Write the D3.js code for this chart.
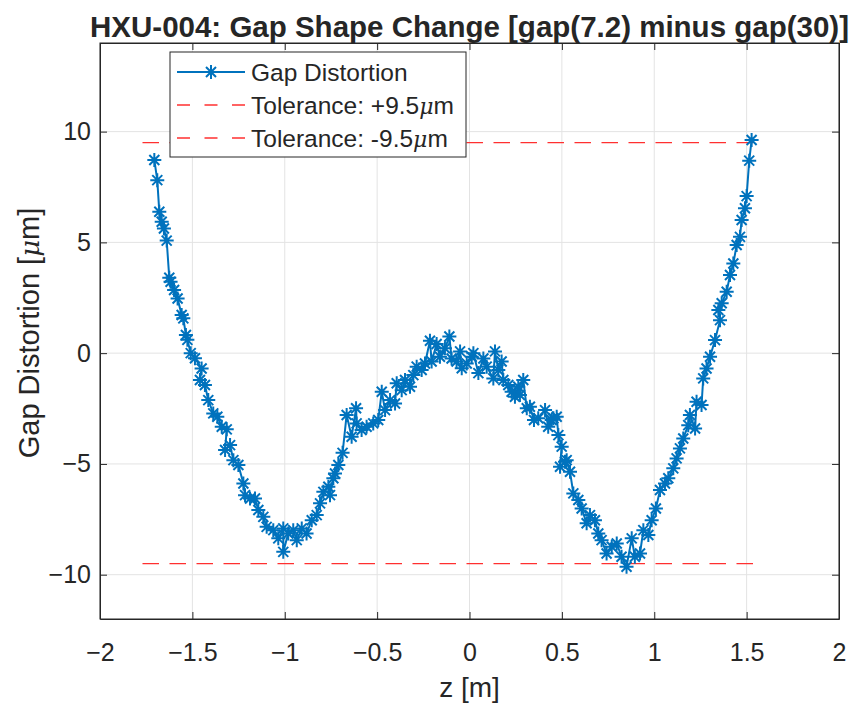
<!DOCTYPE html>
<html>
<head>
<meta charset="utf-8">
<script src="https://cdn.jsdelivr.net/npm/d3@7"></script>
<style>
  body { margin: 0; background: #fff; }
  text { font-family: "Liberation Sans", Arial, Helvetica, sans-serif; fill: #262626; }
</style>
</head>
<body>
<svg id="chart" width="858" height="709"></svg>
<script>
// data
var zValues = [-1.706,-1.690,-1.679,-1.666,-1.654,-1.639,-1.625,-1.618,-1.599,-1.580,-1.558,-1.549,-1.535,-1.527,-1.509,-1.486,-1.450,-1.459,-1.432,-1.414,-1.387,-1.365,-1.341,-1.314,-1.323,-1.296,-1.278,-1.251,-1.224,-1.215,-1.188,-1.161,-1.143,-1.116,-1.098,-1.062,-1.035,-1.008,-1.008,-0.981,-0.954,-0.935,-0.908,-0.882,-0.854,-0.827,-0.809,-0.791,-0.764,-0.755,-0.737,-0.728,-0.710,-0.687,-0.665,-0.638,-0.614,-0.611,-0.584,-0.557,-0.521,-0.494,-0.475,-0.457,-0.430,-0.403,-0.394,-0.367,-0.349,-0.322,-0.304,-0.286,-0.259,-0.241,-0.214,-0.205,-0.178,-0.160,-0.133,-0.109,-0.097,-0.070,-0.051,-0.042,-0.015,0.012,0.021,0.048,0.075,0.093,0.129,0.138,0.156,0.174,0.183,0.210,0.228,0.246,0.264,0.273,0.291,0.310,0.327,0.349,0.372,0.409,0.426,0.445,0.454,0.472,0.481,0.499,0.490,0.517,0.526,0.544,0.562,0.589,0.607,0.634,0.652,0.679,0.697,0.715,0.742,0.770,0.797,0.823,0.850,0.878,0.895,0.923,0.941,0.968,0.986,1.009,1.031,1.058,1.076,1.103,1.121,1.139,1.157,1.184,1.193,1.221,1.229,1.256,1.265,1.283,1.302,1.329,1.356,1.347,1.365,1.392,1.410,1.428,1.446,1.464,1.473,1.491,1.500,1.514,1.527];
var gapValues = [8.72,7.81,6.38,5.93,5.63,5.08,3.40,3.22,2.85,2.47,1.72,1.57,0.82,0.60,0.00,-0.23,-0.69,-1.21,-1.44,-2.12,-2.72,-2.87,-3.32,-3.44,-4.37,-4.15,-4.83,-5.05,-5.88,-6.41,-6.56,-6.56,-7.08,-7.39,-7.84,-7.99,-8.36,-7.91,-8.97,-8.14,-7.99,-8.44,-7.91,-8.14,-7.54,-7.31,-6.78,-6.26,-6.03,-6.41,-5.65,-5.43,-5.05,-4.50,-2.79,-3.77,-2.49,-3.17,-3.47,-3.32,-3.17,-3.02,-1.74,-2.57,-2.12,-2.27,-1.36,-1.67,-1.21,-1.52,-0.99,-0.61,-0.76,-0.47,0.56,-0.38,0.41,-0.16,0.22,0.75,-0.24,-0.38,0.08,-0.68,-0.47,-0.16,0.00,-0.90,-0.24,-0.61,-1.14,0.08,-0.76,-0.38,-1.21,-1.44,-1.74,-1.97,-1.52,-1.89,-1.21,-2.49,-2.42,-3.02,-2.94,-2.57,-3.32,-3.02,-2.94,-2.87,-3.70,-4.22,-5.13,-4.90,-4.83,-5.35,-6.33,-6.63,-7.01,-7.68,-7.31,-7.54,-8.14,-8.44,-9.04,-8.74,-8.59,-9.19,-9.64,-8.36,-9.19,-9.04,-7.99,-8.21,-7.54,-7.01,-6.18,-5.88,-5.65,-5.20,-4.75,-4.30,-3.85,-3.25,-2.79,-3.40,-2.19,-2.34,-1.14,-0.69,-0.16,0.59,1.49,1.95,2.25,2.77,3.53,4.05,4.88,5.25,6.01,6.54,7.09,8.69,9.62];

var tolValues = [9.5, -9.5];
var tolRange = [-1.77, 1.56];
var legendLabels = ["Gap Distortion", "Tolerance: +9.5", "Tolerance: -9.5"];
var xTicks = [-2,-1.5,-1,-0.5,0,0.5,1,1.5,2];
var yTicks = [-10,-5,0,5,10];

var blue = "#0072bd",
	red = "#ff3030",
	axisColor = "#262626",
	gridColor = "#e3e3e3";

var svg = d3.select("#chart");

var x = d3.scaleLinear().domain([-2, 2]).range([100, 839]);
var y = d3.scaleLinear().domain([-12, 14]).range([619, 43]);

var plotLeft = x.range()[0], plotRight = x.range()[1],
	plotTop = y.range()[1], plotBottom = y.range()[0];

//grid lines
var grid = svg.append("g");
grid.selectAll(".gx")
	.data(xTicks)
	.enter().append("line")
	.attr("x1", function(d){ return x(d); })
	.attr("x2", function(d){ return x(d); })
	.attr("y1", plotTop).attr("y2", plotBottom)
	.attr("stroke", gridColor).attr("stroke-width", 1);
grid.selectAll(".gy")
	.data(yTicks)
	.enter().append("line")
	.attr("y1", function(d){ return y(d); })
	.attr("y2", function(d){ return y(d); })
	.attr("x1", plotLeft).attr("x2", plotRight)
	.attr("stroke", gridColor).attr("stroke-width", 1);

//axes, ticks point inward like matlab (matlab uses a real minus sign)
var fmt = function(d){ return String(d).replace("-", "\u2212"); };

var xAxis = svg.append("g")
	.attr("transform", "translate(0," + plotBottom + ")")
	.call(d3.axisBottom(x).tickValues(xTicks).tickFormat(fmt).tickSizeInner(-7).tickSizeOuter(0).tickPadding(24));
var xAxisTop = svg.append("g")
	.attr("transform", "translate(0," + plotTop + ")")
	.call(d3.axisTop(x).tickValues(xTicks).tickFormat("").tickSizeInner(-7).tickSizeOuter(0));
var yAxis = svg.append("g")
	.attr("transform", "translate(" + plotLeft + ",0)")
	.call(d3.axisLeft(y).tickValues(yTicks).tickFormat(fmt).tickSizeInner(-7).tickSizeOuter(0).tickPadding(9));
var yAxisRight = svg.append("g")
	.attr("transform", "translate(" + plotRight + ",0)")
	.call(d3.axisRight(y).tickValues(yTicks).tickFormat("").tickSizeInner(-7).tickSizeOuter(0));

[xAxis, xAxisTop, yAxis, yAxisRight].forEach(function(a){
	a.select(".domain").attr("stroke", axisColor).attr("stroke-width", 1);
	a.selectAll(".tick line").attr("stroke", axisColor);
	a.selectAll(".tick text")
		.attr("fill", axisColor)
		.style("font-size", "25px")
		.style("font-family", "'Liberation Sans', Arial, sans-serif");
});

//tolerance lines
var tolG = svg.append("g");
tolG.selectAll("line")
	.data(tolValues)
	.enter().append("line")
	.attr("x1", x(tolRange[0]))
	.attr("x2", x(tolRange[1]))
	.attr("y1", function(d){ return y(d); })
	.attr("y2", function(d){ return y(d); })
	.attr("stroke", red)
	.attr("stroke-width", 1.3)
	.attr("stroke-dasharray", "16.5,10.5");

//gap distortion line + star markers
var pts = zValues.map(function(z, i){ return [z, gapValues[i]]; });

var line = d3.line()
	.x(function(d){ return x(d[0]); })
	.y(function(d){ return y(d[1]); });

svg.append("path")
	.datum(pts)
	.attr("d", line)
	.attr("fill", "none")
	.attr("stroke", blue)
	.attr("stroke-width", 2);

var star = "M-7,0H7M0,-7V7M-5,-5L5,5M-5,5L5,-5";

svg.append("g").selectAll("path")
	.data(pts)
	.enter().append("path")
	.attr("transform", function(d){ return "translate(" + x(d[0]) + "," + y(d[1]) + ")"; })
	.attr("d", star)
	.attr("fill", "none")
	.attr("stroke", blue)
	.attr("stroke-width", 2);

//box on top
svg.append("rect")
	.attr("x", plotLeft).attr("y", plotTop)
	.attr("width", plotRight - plotLeft).attr("height", plotBottom - plotTop)
	.attr("fill", "none").attr("stroke", axisColor).attr("stroke-width", 1);

//title and labels
svg.append("text")
	.attr("x", (plotLeft + plotRight) / 2)
	.attr("y", 37)
	.attr("text-anchor", "middle")
	.style("font-size", "29.5px")
	.style("font-weight", "bold")
	.attr("fill", "#000")
	.text("HXU-004: Gap Shape Change [gap(7.2) minus gap(30)]");

svg.append("text")
	.attr("x", (plotLeft + plotRight) / 2)
	.attr("y", 697)
	.attr("text-anchor", "middle")
	.style("font-size", "28px")
	.text("z [m]");

var muFont = "'DejaVu Serif', 'Liberation Serif', serif";

var ylab = svg.append("text")
	.attr("transform", "translate(39,333) rotate(-90)")
	.attr("text-anchor", "middle")
	.style("font-size", "29px");
ylab.append("tspan").text("Gap Distortion [");
ylab.append("tspan").style("font-style", "italic").style("font-family", muFont).style("font-size", "26px").text("\u03bc");
ylab.append("tspan").text("m]");

//legend
var legend = svg.append("g");
legend.append("rect")
	.attr("x", 170).attr("y", 52)
	.attr("width", 296).attr("height", 105)
	.attr("fill", "#fff").attr("stroke", axisColor).attr("stroke-width", 1);

var rowY = [72, 105, 138];
legendLabels.forEach(function(lbl, i){
	var ry = rowY[i];
	var ln = legend.append("line")
		.attr("x1", 177).attr("x2", 245)
		.attr("y1", ry).attr("y2", ry);
	if (i == 0) {
		ln.attr("stroke", blue).attr("stroke-width", 2);
		legend.append("path")
			.attr("transform", "translate(211," + ry + ")")
			.attr("d", star)
			.attr("fill", "none").attr("stroke", blue).attr("stroke-width", 2);
	} else {
		ln.attr("stroke", red).attr("stroke-width", 1.3).attr("stroke-dasharray", "13,14.5");
	}
	var t = legend.append("text")
		.attr("x", 251).attr("y", ry + 9)
		.style("font-size", "24.5px")
		.attr("fill", "#000");
	t.append("tspan").text(lbl);
	if (i > 0) {
		t.append("tspan").style("font-style", "italic").style("font-family", muFont).style("font-size", "22px").text("\u03bc");
		t.append("tspan").text("m");
	}
});
</script>
</body>
</html>
